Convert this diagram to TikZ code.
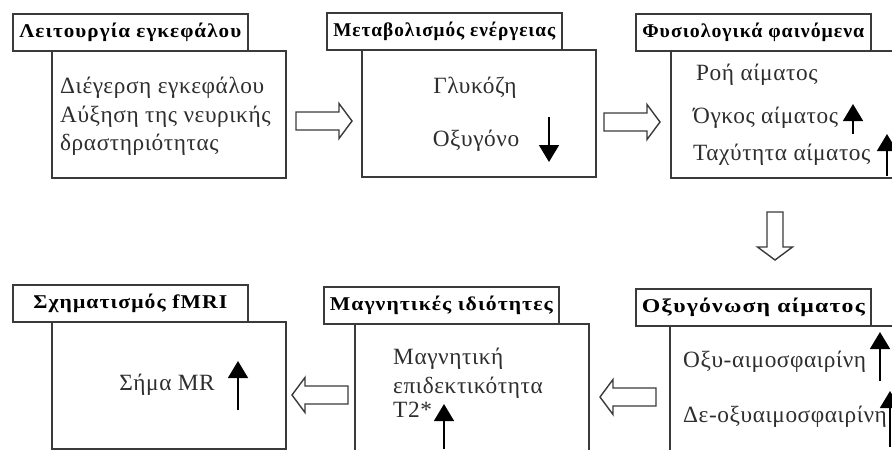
\documentclass[tikz,border=0pt]{standalone}
\usepackage{fontspec}
\usepackage{graphicx}
\setmainfont{Liberation Serif}[LetterSpace=2.5]
\newfontfamily\titlefont[LetterSpace=5]{Liberation Serif}
\newcommand\fitw[2]{\resizebox{#1}{\height}{#2}}
\usetikzlibrary{arrows.meta}
\definecolor{linec}{HTML}{3A3A3A}
\definecolor{txtc}{HTML}{2E2E2E}
\begin{document}
\begin{tikzpicture}[x=1pt,y=-1pt,
  mainbox/.style={draw=linec, line width=1.6pt, fill=white, minimum width=234pt, minimum height=127pt, inner sep=0pt, anchor=north west},
  titlebox/.style={draw=linec, line width=1.6pt, fill=white, minimum width=235pt, minimum height=37pt, inner sep=0pt, anchor=north west, font=\titlefont\fontsize{19.5}{22}\selectfont\bfseries, text=black},
  txt/.style={font=\fontsize{23.3}{26}\selectfont, text=txtc, inner sep=0pt, text height=16pt, text depth=5.5pt},
  uparr/.style={line width=1.6pt, draw=black, -{Triangle[width=20pt,length=17pt]}},
  pics/hollowarr/.style={code={\draw[line width=1.4pt, draw=linec, fill=white] (-28,-9) -- (15,-9) -- (15,-17.5) -- (28,0) -- (15,17.5) -- (15,9) -- (-28,9) -- cycle;}},
  pics/hollowdown/.style={code={\draw[line width=1.4pt, draw=linec, fill=white] (-8,-24) -- (8,-24) -- (8,11) -- (17.5,11) -- (0,24) -- (-17.5,11) -- (-8,11) -- cycle;}}
]
\useasboundingbox (0,0) rectangle (892,450);
\clip (0,0) rectangle (892,450);

% Box 1
\node[mainbox] (m1) at (51,50) {};
\node[titlebox] (t1) at (12,13) {\fitw{222pt}{Λειτουργία εγκεφάλου}};
\node[txt, anchor=west] (m1a) at (60,88) {Διέγερση εγκεφάλου};
\node[txt, anchor=west] (m1b) at (60,117) {Αύξηση της νευρικής};
\node[txt, anchor=west] (m1c) at (60,145) {δραστηριότητας};

% Box 2
\node[mainbox] (m2) at (361,49) {};
\node[titlebox] (t2) at (326,12) {\fitw{222pt}{Μεταβολισμός ενέργειας}};
\node[txt] (m2a) at (475,88) {Γλυκόζη};
\node[txt] (m2b) at (476,141) {Οξυγόνο};
\coordinate (d2s) at (549,117);
\coordinate (d2e) at (549,162);
\draw[uparr] (d2s) -- (d2e);

% Box 3
\node[mainbox] (m3) at (670,50) {};
\node[titlebox] (t3) at (635,13) {\fitw{222pt}{Φυσιολογικά φαινόμενα}};
\node[txt, anchor=west] (m3a) at (696,75) {Ροή αίματος};
\node[txt, anchor=west] (m3b) at (693,118) {Όγκος αίματος};
\node[txt, anchor=west] (m3c) at (693,155) {Ταχύτητα αίματος};
\coordinate (u3as) at (853,134);
\coordinate (u3ae) at (853,104);
\draw[uparr] (u3as) -- (u3ae);
\coordinate (u3bs) at (887,176);
\coordinate (u3be) at (887,134);
\draw[uparr] (u3bs) -- (u3be);

% Box 4
\node[mainbox] (m4) at (669,325) {};
\node[titlebox] (t4) at (635,288) {\fitw{223pt}{Οξυγόνωση αίματος}};
\node[txt, anchor=west] (m4a) at (683,362) {Οξυ-αιμοσφαιρίνη};
\node[txt, anchor=west] (m4b) at (683,417) {Δε-οξυαιμοσφαιρίνη};
\coordinate (u4as) at (880,381);
\coordinate (u4ae) at (880,332);
\draw[uparr] (u4as) -- (u4ae);
\coordinate (u4bs) at (890,447);
\coordinate (u4be) at (890,391);
\draw[uparr] (u4bs) -- (u4be);

% Box 5
\node[mainbox] (m5) at (354,323) {};
\node[titlebox] (t5) at (323,286) {\fitw{223pt}{Μαγνητικές ιδιότητες}};
\node[txt, anchor=west] (m5a) at (393,359) {Μαγνητική};
\node[txt, anchor=west] (m5b) at (393,388) {επιδεκτικότητα};
\node[txt, anchor=west] (m5c) at (393,412) {T2*};
\coordinate (u5s) at (444,449);
\coordinate (u5e) at (444,404);
\draw[uparr] (u5s) -- (u5e);

% Box 6
\node[mainbox] (m6) at (51,321) {};
\node[titlebox] (t6) at (12,284) {\fitw{194pt}{Σχηματισμός fMRI}};
\node[txt] (m6a) at (167,385) {Σήμα MR};
\coordinate (u6s) at (238,410);
\coordinate (u6e) at (238,361);
\draw[uparr] (u6s) -- (u6e);

% hollow arrows
\pic (h12) at (324,121) {hollowarr};
\pic (h23) at (632,122) {hollowarr};
\pic (h34) at (775,236) {hollowdown};
\pic[rotate=180] (h45) at (628,397) {hollowarr};
\pic[rotate=180] (h56) at (320,395) {hollowarr};
\end{tikzpicture}
\end{document}
